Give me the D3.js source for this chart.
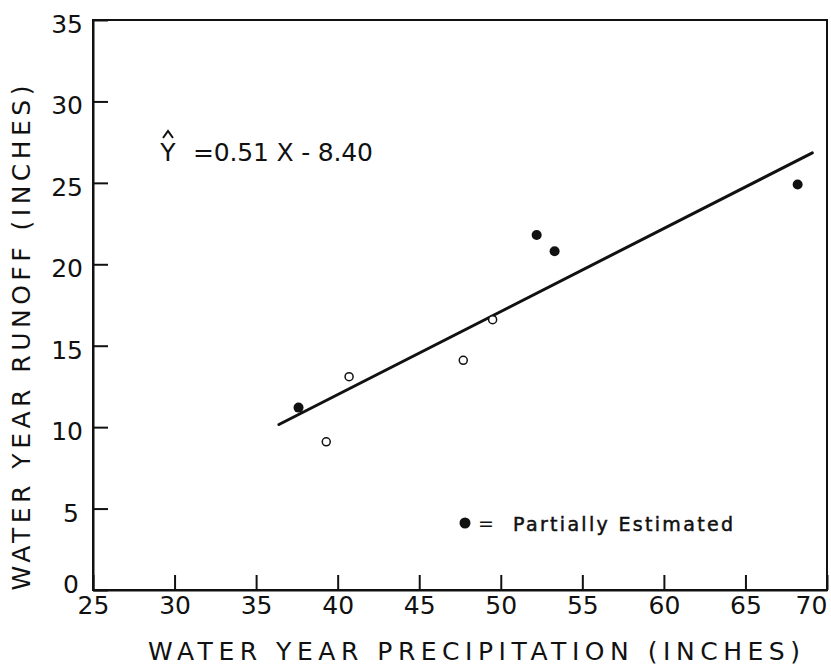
<!DOCTYPE html>
<html>
<head>
<meta charset="utf-8">
<script src="https://cdn.jsdelivr.net/npm/d3@7"></script>
<style>
  html, body { margin: 0; padding: 0; background: #fff; }
  svg { display: block; }
  text { font-family: "DejaVu Sans", Lato, sans-serif; fill: #111; }
</style>
</head>
<body>
<script>
// Water year precipitation vs. runoff (inches)
const precipMeasured = [39.3, 40.7, 47.7, 49.5];
const runoffMeasured = [9.1, 13.1, 14.1, 16.6];
const precipEstimated = [37.6, 52.2, 53.3, 68.2];
const runoffEstimated = [11.2, 21.8, 20.8, 24.9];

// Fitted regression  Y = 0.51 X - 8.40, drawn over the observed range
const slope = 0.51;
const intercept = -8.40;
const fitRange = [36.4, 69.1];

const xTicks = [25, 30, 35, 40, 45, 50, 55, 60, 65, 70];
const yTicks = [0, 5, 10, 15, 20, 25, 30, 35];

const W = 831, H = 668;
const margin = { left: 93, right: 4, top: 20, bottom: 78 };

const svg = d3.select("body").append("svg")
  .attr("width", W).attr("height", H);

const x = d3.scaleLinear().domain([25, 70]).range([margin.left, W - margin.right]);
const y = d3.scaleLinear().domain([0, 35]).range([H - margin.bottom, margin.top]);

const ink = "#111";
const font = "'DejaVu Sans', Lato, sans-serif";

// Frame
svg.append("rect")
  .attr("x", x(25)).attr("y", y(35))
  .attr("width", x(70) - x(25)).attr("height", y(0) - y(35))
  .attr("fill", "none").attr("stroke", ink).attr("stroke-width", 2);

// Axes with inward ticks
const xAxis = svg.append("g")
  .attr("transform", `translate(0,${y(0)})`)
  .call(d3.axisBottom(x).tickValues(xTicks).tickSize(-15).tickSizeOuter(0).tickPadding(6));
const yAxis = svg.append("g")
  .attr("transform", `translate(${x(25)},0)`)
  .call(d3.axisLeft(y).tickValues(yTicks).tickSize(-15).tickSizeOuter(0).tickPadding(10));

[xAxis, yAxis].forEach(g => {
  g.select(".domain").attr("stroke", ink).attr("stroke-width", 2);
  g.selectAll(".tick line").attr("stroke", ink).attr("stroke-width", 2);
  g.selectAll(".tick text")
    .attr("fill", ink)
    .style("font-family", font)
    .style("font-size", "25px");
});
xAxis.selectAll(".tick text")
  .attr("dy", "0.7em")
  .attr("dx", d => d === 70 ? -16 : 0);
yAxis.selectAll(".tick text")
  .attr("dy", d => d === 0 ? "0.1em" : "0.5em")
  .attr("dx", d => d < 10 ? -4 : 0);

// Axis titles
svg.append("text")
  .attr("x", 474).attr("y", 660)
  .attr("text-anchor", "middle")
  .attr("textLength", 652).attr("lengthAdjust", "spacing")
  .style("font-size", "25px")
  .text("WATER YEAR PRECIPITATION (INCHES)");

svg.append("text")
  .attr("transform", "translate(30,338) rotate(-90)")
  .attr("text-anchor", "middle")
  .attr("textLength", 505).attr("lengthAdjust", "spacing")
  .style("font-size", "25px")
  .text("WATER YEAR RUNOFF (INCHES)");

// Regression line
svg.append("line")
  .attr("x1", x(fitRange[0])).attr("y1", y(slope * fitRange[0] + intercept))
  .attr("x2", x(fitRange[1])).attr("y2", y(slope * fitRange[1] + intercept))
  .attr("stroke", ink).attr("stroke-width", 3).attr("stroke-linecap", "round");

// Measured years: open circles
svg.append("g").selectAll("circle")
  .data(precipMeasured.map((p, i) => [p, runoffMeasured[i]]))
  .join("circle")
  .attr("cx", d => x(d[0])).attr("cy", d => y(d[1]))
  .attr("r", 4)
  .attr("fill", "#fff").attr("stroke", ink).attr("stroke-width", 1.5);

// Partially estimated years: filled circles
svg.append("g").selectAll("circle")
  .data(precipEstimated.map((p, i) => [p, runoffEstimated[i]]))
  .join("circle")
  .attr("cx", d => x(d[0])).attr("cy", d => y(d[1]))
  .attr("r", 5)
  .attr("fill", ink);

// Regression equation
const eq = svg.append("g");
eq.append("text")
  .attr("x", 168).attr("y", 161)
  .attr("text-anchor", "middle")
  .style("font-size", "25px")
  .text("Y");
eq.append("path")
  .attr("d", "M163,138 L168,131 L173,138")
  .attr("fill", "none").attr("stroke", ink).attr("stroke-width", 2);
eq.append("text")
  .attr("x", 193).attr("y", 161)
  .attr("textLength", 180).attr("lengthAdjust", "spacing")
  .style("font-size", "25px")
  .text("=0.51 X - 8.40");

// Legend
svg.append("circle")
  .attr("cx", 465).attr("cy", 523).attr("r", 5.5).attr("fill", ink);
svg.append("text")
  .attr("x", 478).attr("y", 530)
  .style("font-size", "19px")
  .text("=");
svg.append("text")
  .attr("x", 513).attr("y", 531)
  .attr("textLength", 220).attr("lengthAdjust", "spacing")
  .style("font-size", "19px")
  .attr("stroke", ink).attr("stroke-width", 0.5)
  .text("Partially Estimated");
</script>
</body>
</html>
